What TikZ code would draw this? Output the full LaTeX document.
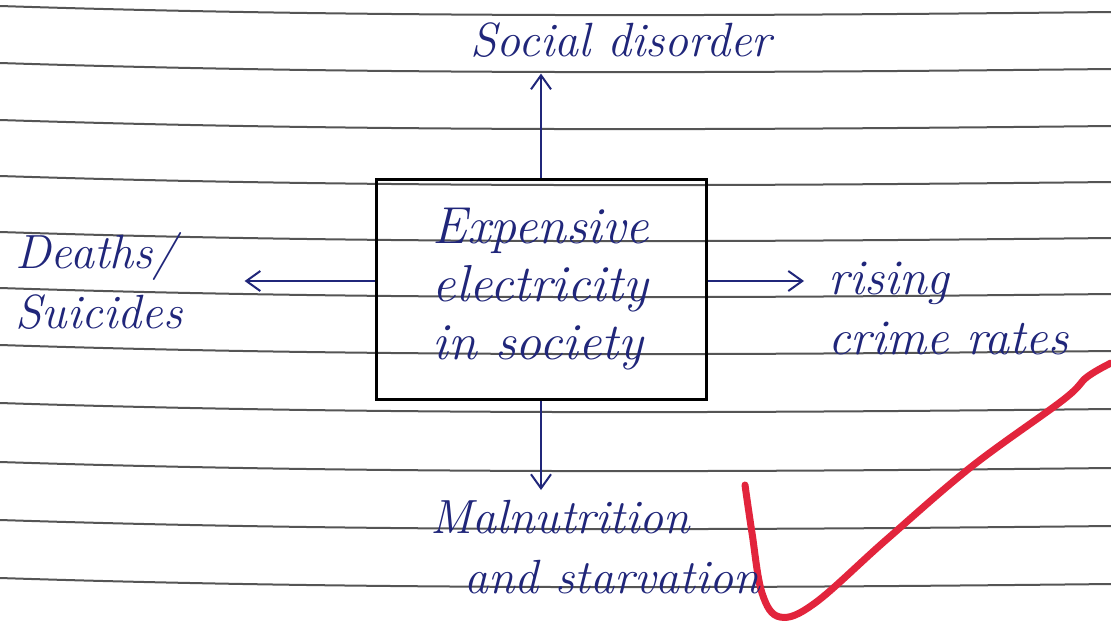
\documentclass[tikz,border=0pt]{standalone}
\usetikzlibrary{arrows.meta}
\definecolor{ink}{RGB}{32,38,122}
\definecolor{ruleline}{RGB}{85,85,85}
\definecolor{redpen}{RGB}{226,36,60}
\tikzset{hand/.style={text=ink,inner sep=0,align=left,font=\fontsize{24}{30}\selectfont\itshape},
 ruled/.style={ruleline,line width=1pt},
 arr/.style={ink,line width=1pt,-{Straight Barb[length=7pt,width=10pt]}},
 tick/.style={redpen,line width=3.5pt,line cap=round}}
\begin{document}
\begin{tikzpicture}[x=0.5pt,y=-0.5pt]
 \useasboundingbox[fill=white] (0,0) rectangle (1111,621);
 \begin{scope}
  \clip (0,0) rectangle (1111,621);
  % ruled paper
  \foreach \y in {6,63,120,176,232,288,345,403,462,520,578}{
      \draw[ruled] (0,\y) .. controls (370,\y+12) and (740,\y+10) .. (1111,\y+6);
  }
  % red tick
  \draw[tick] plot[smooth,tension=0.6] coordinates {(745,485) (752,533) (762,593) (780,617) (815,603) (886,540) (971,467) (1063,400) (1087,377) (1111,363)};
 \end{scope}

 \node[hand,draw=black,line width=1.5pt,minimum width=165pt,minimum height=110pt,font=\fontsize{26}{29}\selectfont\itshape] (cause) at (541,289) {Expensive\\electricity\\in society};
 \node[hand,anchor=north west] (social) at (470,22) {Social disorder};
 \node[hand,anchor=north west] (deaths) at (15,232) {Deaths/\\Suicides};
 \node[hand,anchor=north west,font=\fontsize{25}{30}\selectfont\itshape] (crime) at (828,262) {rising\\crime rates};
 \node[hand,anchor=north west] (maln) at (430,500) {Malnutrition\\\hspace*{17pt}and starvation};

 \coordinate (lft) at ([yshift=4pt]cause.west);
 \coordinate (rgt) at ([yshift=4pt]cause.east);
 \draw[arr,shorten >=8pt] (cause.north) -- (cause.north |- social.south);
 \draw[arr,shorten >=31pt] (lft) -- (lft -| deaths.east);
 \draw[arr,shorten >=12pt] (rgt) -- (rgt -| crime.west);
 \draw[arr,shorten >=5pt] (cause.south) -- (cause.south |- maln.north);
\end{tikzpicture}
\end{document}
